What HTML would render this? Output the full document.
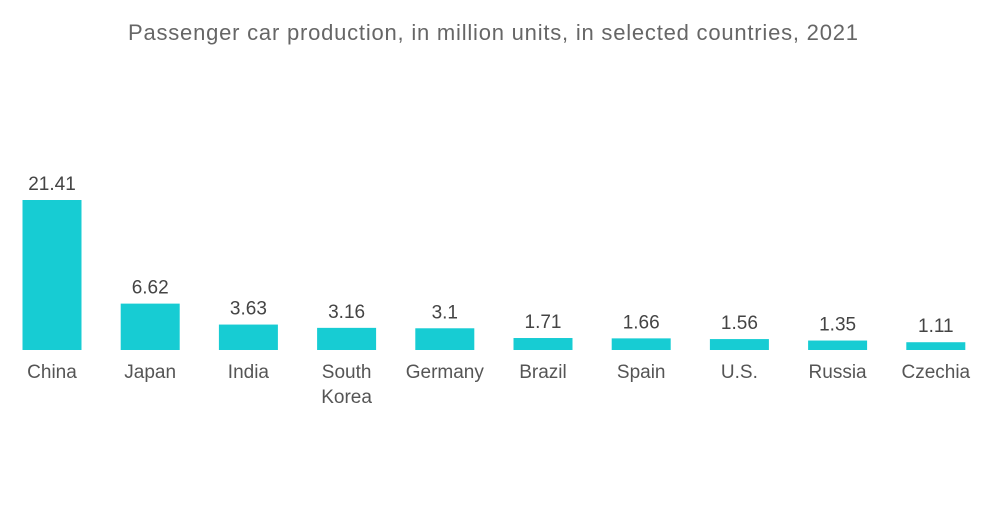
<!DOCTYPE html>
<html><head><meta charset="utf-8"><style>
body{margin:0;background:#fff;width:1000px;height:504px;overflow:hidden;font-family:"Liberation Sans",sans-serif}
</style></head><body>
<svg id="chart" width="1000" height="504" xmlns="http://www.w3.org/2000/svg">
<text x="493" y="40" text-anchor="middle" font-size="22" textLength="730" lengthAdjust="spacing" fill="#666">Passenger car production, in million units, in selected countries, 2021</text>
<g id="bars"></g>
</svg>
<script>
const categories=["China","Japan","India","South|Korea","Germany","Brazil","Spain","U.S.","Russia","Czechia"];
const values=[21.41,6.62,3.63,3.16,3.1,1.71,1.66,1.56,1.35,1.11];
const labels=["21.41","6.62","3.63","3.16","3.1","1.71","1.66","1.56","1.35","1.11"];
const baseY=350, scaleY=150/21.41, x0=52, step=98.2, bw=59;
const y=v=>baseY-v*scaleY;
const xc=i=>x0+i*step;
const g=document.getElementById('bars');
const NS="http://www.w3.org/2000/svg";
values.forEach((v,i)=>{
  const r=document.createElementNS(NS,'rect');
  
  
  r.setAttribute('x',xc(i)-bw/2);r.setAttribute('y',y(v));r.setAttribute('width',bw);r.setAttribute('height',baseY-y(v));
  r.setAttribute('fill','#17ccd3');g.appendChild(r);
  const t=document.createElementNS(NS,'text');
  
  
  t.setAttribute('x',xc(i));t.setAttribute('y',y(v)-10);t.setAttribute('text-anchor','middle');
  t.setAttribute('font-size','19');t.setAttribute('fill','#444');t.textContent=labels[i];g.appendChild(t);
  categories[i].split('|').forEach((line,k)=>{
    const c=document.createElementNS(NS,'text');
    
    
    c.setAttribute('x',xc(i));c.setAttribute('y',378+k*25);c.setAttribute('text-anchor','middle');
    c.setAttribute('font-size','19');c.setAttribute('fill','#555');c.textContent=line;g.appendChild(c);
  });
});
</script>
</body></html>
